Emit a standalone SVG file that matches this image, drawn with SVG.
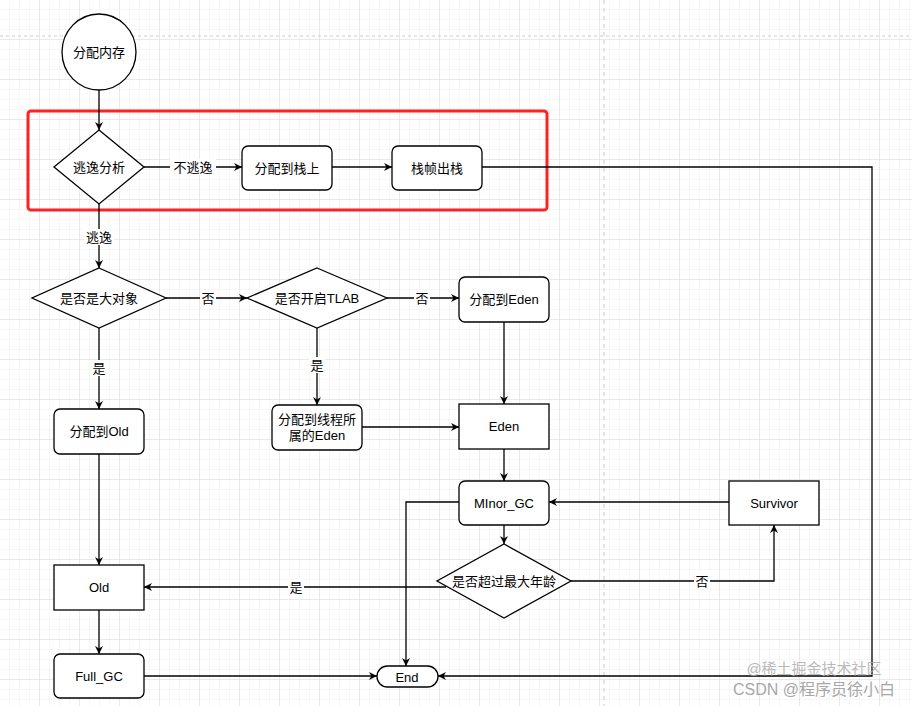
<svg xmlns="http://www.w3.org/2000/svg" width="912" height="706" viewBox="0 0 912 706">
<defs>
<pattern id="g" width="10" height="10" patternUnits="userSpaceOnUse"><path d="M10 0V10H0" fill="none" stroke="#efefef" stroke-width="1"/></pattern>
<pattern id="G" width="40" height="40" patternUnits="userSpaceOnUse"><rect width="40" height="40" fill="url(#g)"/><path d="M40 0V40H0" fill="none" stroke="#dcdcdc" stroke-width="1"/></pattern>
<marker id="a" viewBox="0 0 10 10" refX="10" refY="5" markerWidth="8" markerHeight="8" orient="auto" markerUnits="userSpaceOnUse"><path d="M0 0L10 5L0 10L3 5z" fill="#000"/></marker>
<style>
.n{fill:#fff;stroke:#000;stroke-width:1.3}
.c{fill:none;stroke:#000;stroke-width:1.3;marker-end:url(#a)}
text{font-family:"Liberation Sans","Noto Sans CJK SC",sans-serif;font-size:13px;text-anchor:middle;dominant-baseline:central;fill:#000}
.lb{fill:#fff}
</style>
</defs>
<rect width="912" height="706" fill="#fff"/>
<rect width="912" height="706" fill="url(#G)"/>
<line x1="0" y1="36" x2="912" y2="36" stroke="#ccc" stroke-dasharray="3 3"/>
<line x1="604" y1="0" x2="604" y2="706" stroke="#ccc" stroke-dasharray="4 4"/>
<rect x="28" y="111" width="519" height="99" rx="3" fill="none" stroke="#f22" stroke-width="3"/>
<g id="connectors">
<path class="c" d="M99 90V130"/>
<path class="c" d="M144 167H242"/>
<path class="c" d="M332 167H392"/>
<path class="c" d="M482 167H872V676H438"/>
<path class="c" d="M99 204V268"/>
<path class="c" d="M166 298H247"/>
<path class="c" d="M387 298H459"/>
<path class="c" d="M99 328V409"/>
<path class="c" d="M317 328V405"/>
<path class="c" d="M504 322V404"/>
<path class="c" d="M362 427H459"/>
<path class="c" d="M504 449V481"/>
<path class="c" d="M729 502H549"/>
<path class="c" d="M504 525V544"/>
<path class="c" d="M571 581H774V525"/>
<path class="c" d="M446 587H144"/>
<path class="c" d="M99 454V565"/>
<path class="c" d="M99 610V654"/>
<path class="c" d="M144 676H377"/>
<path class="c" d="M459 502H406V666"/>
<rect class="lb" x="170" y="159" width="46" height="16"/><text x="193" y="167">不逃逸</text>
<rect class="lb" x="84" y="229" width="30" height="16"/><text x="99" y="237">逃逸</text>
<rect class="lb" x="200" y="290" width="16" height="16"/><text x="208" y="298">否</text>
<rect class="lb" x="414" y="290" width="16" height="16"/><text x="422" y="298">否</text>
<rect class="lb" x="91" y="360" width="16" height="16"/><text x="99" y="368">是</text>
<rect class="lb" x="309" y="357" width="16" height="16"/><text x="317" y="365">是</text>
<rect class="lb" x="694" y="573" width="16" height="16"/><text x="702" y="581">否</text>
<rect class="lb" x="288" y="579" width="16" height="16"/><text x="296" y="587">是</text>
</g>
<g id="start"><ellipse class="n" cx="99" cy="52" rx="37" ry="38"/><text x="99" y="52">分配内存</text></g>
<g id="escape"><path class="n" d="M99 130L144 167L99 204L54 167z"/><text x="99" y="167">逃逸分析</text></g>
<g id="stack"><rect class="n" x="242" y="146" width="90" height="44" rx="6"/><text x="287" y="168">分配到栈上</text></g>
<g id="pop"><rect class="n" x="392" y="146" width="90" height="44" rx="6"/><text x="437" y="168">栈帧出栈</text></g>
<g id="big"><path class="n" d="M99 268L166 298L99 328L32 298z"/><text x="99" y="298">是否是大对象</text></g>
<g id="tlab"><path class="n" d="M317 268L387 298L317 328L247 298z"/><text x="317" y="298">是否开启TLAB</text></g>
<g id="toeden"><rect class="n" x="459" y="277" width="90" height="45" rx="6"/><text x="504" y="299">分配到Eden</text></g>
<g id="toold"><rect class="n" x="54" y="409" width="90" height="45" rx="6"/><text x="99" y="431">分配到Old</text></g>
<g id="tlabeden"><rect class="n" x="272" y="405" width="90" height="45" rx="6"/><text x="317" y="419">分配到线程所</text><text x="317" y="435">属的Eden</text></g>
<g id="eden"><rect class="n" x="459" y="404" width="90" height="45"/><text x="504" y="426">Eden</text></g>
<g id="minor"><rect class="n" x="459" y="481" width="90" height="44" rx="6"/><text x="504" y="503">MInor_GC</text></g>
<g id="survivor"><rect class="n" x="729" y="481" width="90" height="44"/><text x="774" y="503">Survivor</text></g>
<g id="age"><path class="n" d="M504 544L571 581L504 618L437 581z"/><text x="504" y="581">是否超过最大年龄</text></g>
<g id="old"><rect class="n" x="54" y="565" width="90" height="45"/><text x="99" y="587">Old</text></g>
<g id="full"><rect class="n" x="54" y="654" width="90" height="44" rx="6"/><text x="99" y="676">Full_GC</text></g>
<g id="end"><rect class="n" x="377" y="666" width="61" height="21" rx="10.5"/><text x="407" y="677">End</text></g>
<text x="814" y="668" style="font-size:15px;fill:#aaa;opacity:.8">@稀土掘金技术社区</text>
<text x="814" y="689" style="font-size:16px;fill:#999;opacity:.85">CSDN @程序员徐小白</text>
</svg>
